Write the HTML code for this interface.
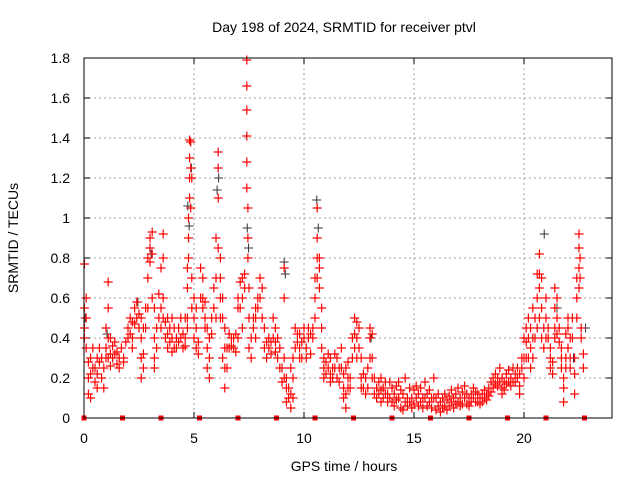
<!DOCTYPE html>
<html><head><meta charset="utf-8"><style>
body{margin:0;background:#fff}
svg{display:block;font-family:"Liberation Sans",sans-serif}
</style></head><body>
<svg id="chart" width="640" height="480" viewBox="0 0 640 480">
<rect width="640" height="480" fill="#fff"/>
<text x="344" y="32" font-size="14" text-anchor="middle">Day 198 of 2024, SRMTID for receiver ptvl</text>
<text x="344" y="471" font-size="14" text-anchor="middle">GPS time / hours</text>
<text transform="translate(18,238) rotate(-90)" font-size="14" text-anchor="middle">SRMTID / TECUs</text>
<g id="grid"></g>
<g id="ticks"></g>
<g id="black"></g>
<g id="red"></g>
<g id="marks"></g>
<rect x="84" y="58" width="528" height="360" fill="none" stroke="#000" stroke-width="1"/>
</svg>
<script>
const xTicks=[0,5,10,15,20];
const yTicks=[0,0.2,0.4,0.6,0.8,1,1.2,1.4,1.6,1.8];
const yTickLabels=["0","0.2","0.4","0.6","0.8","1","1.2","1.4","1.6","1.8"];
const markerHours=[0,1.75,3.5,5.25,7,8.75,10.5,12.25,14,15.75,17.5,19.25,21,22.75];
const redHours=[0.02,0.1,0.2,0.3,0.4,0.5,0.6,0.7,0.8,0.9,1.0,1.1,1.2,1.3,1.4,1.5,1.6,1.7,1.8,1.9,2.0,2.1,2.2,2.3,2.4,2.5,2.6,2.7,2.8,2.9,3.0,3.1,3.2,3.3,3.4,3.5,3.6,3.7,3.8,3.9,4.0,4.1,4.2,4.3,4.4,4.5,4.6,4.7,4.75,4.8,4.85,4.9,5.0,5.1,5.2,5.3,5.4,5.5,5.6,5.7,5.8,5.9,6.0,6.1,6.2,6.3,6.4,6.5,6.6,6.7,6.8,6.9,7.0,7.1,7.2,7.3,7.4,7.45,7.5,7.6,7.7,7.8,7.9,8.0,8.1,8.2,8.3,8.4,8.5,8.6,8.7,8.8,8.9,9.0,9.1,9.2,9.3,9.4,9.5,9.6,9.7,9.8,9.9,10.0,10.1,10.2,10.3,10.4,10.5,10.6,10.7,10.8,10.9,11.0,11.1,11.2,11.3,11.4,11.5,11.6,11.7,11.8,11.9,12.0,12.1,12.2,12.3,12.4,12.5,12.6,12.7,12.8,12.9,13.0,13.1,13.2,13.3,13.4,13.5,13.6,13.7,13.8,13.9,14.0,14.1,14.2,14.3,14.4,14.5,14.6,14.7,14.8,14.9,15.0,15.1,15.2,15.3,15.4,15.5,15.6,15.7,15.8,15.9,16.0,16.1,16.2,16.3,16.4,16.5,16.6,16.7,16.8,16.9,17.0,17.1,17.2,17.3,17.4,17.5,17.6,17.7,17.8,17.9,18.0,18.1,18.2,18.3,18.4,18.5,18.6,18.7,18.8,18.9,19.0,19.1,19.2,19.3,19.4,19.5,19.6,19.7,19.8,19.9,20.0,20.1,20.2,20.3,20.4,20.5,20.6,20.7,20.8,20.9,21.0,21.1,21.2,21.3,21.4,21.5,21.6,21.7,21.8,21.9,22.0,22.1,22.2,22.3,22.4,22.5,22.55,22.6,22.7];
const redValues=[[0.77,0.55,0.45,0.4],[0.6,0.5,0.35],[0.28,0.2,0.12],[0.3,0.22,0.1],[0.35,0.25],[0.25,0.18],[0.3,0.22,0.15],[0.35,0.28],[0.3,0.2],[0.25,0.15],[0.45,0.35,0.3],[0.68,0.55,0.4,0.3],[0.4,0.32,0.26],[0.36,0.3],[0.38,0.32],[0.33,0.27],[0.3,0.25],[0.35],[0.3,0.28],[0.38],[0.45,0.4],[0.5,0.42],[0.48,0.4,0.35],[0.55,0.47],[0.58,0.5],[0.52,0.45],[0.5,0.4,0.3,0.2],[0.45,0.32,0.25],[0.55,0.45],[0.8,0.7,0.55],[0.9,0.85,0.78],[0.93,0.82,0.6],[0.55,0.4,0.3,0.25],[0.45,0.35],[0.62,0.5],[0.75,0.55,0.45],[0.92,0.8,0.6,0.5],[0.48,0.4],[0.5,0.42,0.35],[0.45,0.38],[0.5,0.4,0.33],[0.45,0.35],[0.4,0.35],[0.45,0.38],[0.5,0.4],[0.42,0.35],[0.5,0.4,0.36],[0.75,0.65,0.5,0.45],[1.0,0.9,0.8],[1.39,1.3,1.2,1.1],[1.38,1.25,1.05],[1.2,0.7,0.55],[0.6,0.5,0.4],[0.55,0.45,0.35],[0.38,0.32],[0.75,0.6],[0.7,0.6,0.55],[0.58,0.5,0.45],[0.45,0.35,0.25],[0.4,0.3,0.2],[0.5,0.42],[0.65,0.55],[0.9,0.7,0.5],[1.33,1.25,1.1,0.85],[0.8,0.7,0.6,0.5],[0.6,0.5,0.3],[0.45,0.35,0.25,0.15],[0.35,0.25],[0.42,0.35],[0.4,0.36],[0.4,0.35],[0.42,0.33],[0.6,0.55,0.4],[0.68,0.55],[0.7,0.6,0.45],[0.72,0.65],[1.79,1.66,1.54,1.41,1.28,1.15],[1.05,0.9,0.8],[0.65,0.5,0.35],[0.3,0.4],[0.5,0.45],[0.55,0.5,0.4],[0.6,0.55],[0.7,0.6],[0.65,0.5],[0.45,0.35],[0.38,0.3],[0.4,0.35],[0.38,0.32],[0.5,0.4],[0.45,0.38,0.33],[0.4,0.3],[0.35,0.25],[0.25,0.18],[0.75,0.6,0.3,0.2],[0.2,0.15,0.08],[0.15,0.1],[0.25,0.12,0.05],[0.3,0.2,0.1],[0.45,0.35],[0.42,0.38],[0.42,0.35,0.3],[0.38,0.3],[0.45,0.4],[0.35,0.3],[0.45,0.4],[0.42,0.32],[0.45,0.4],[0.7,0.6,0.5],[1.05,0.9,0.8,0.7],[0.8,0.75,0.65],[0.55,0.45,0.35],[0.3,0.25,0.2],[0.28,0.22],[0.32,0.25],[0.3,0.22,0.18],[0.25,0.2],[0.32,0.25],[0.3,0.2],[0.25,0.18],[0.35,0.25],[0.22,0.15,0.1],[0.25,0.12,0.05],[0.28,0.2,0.15],[0.2,0.15],[0.4,0.3],[0.5,0.42,0.35],[0.48,0.4,0.3],[0.45,0.35],[0.3,0.2,0.15],[0.22,0.15],[0.2,0.12],[0.25,0.15],[0.45,0.4,0.3],[0.42,0.3,0.2],[0.2,0.12],[0.15,0.1],[0.18,0.12],[0.2,0.14,0.08],[0.15,0.1],[0.18,0.12],[0.12,0.08],[0.18,0.1],[0.15,0.08],[0.12,0.06],[0.16,0.09],[0.18,0.1],[0.14,0.05],[0.12,0.04],[0.2,0.08],[0.1,0.06],[0.15,0.08],[0.1,0.05],[0.14,0.07],[0.16,0.1],[0.12,0.06],[0.15,0.08],[0.1,0.05],[0.18,0.1],[0.12,0.06],[0.14,0.08],[0.1,0.05],[0.2,0.1],[0.1,0.04],[0.12,0.06],[0.08,0.03],[0.1,0.05],[0.12,0.06],[0.09,0.04],[0.11,0.06],[0.14,0.08],[0.1,0.05],[0.12,0.07],[0.15,0.08],[0.1,0.06],[0.13,0.07],[0.16,0.1],[0.12,0.07],[0.1,0.06],[0.12,0.08],[0.15,0.1],[0.13,0.08],[0.12,0.08],[0.1,0.07],[0.12,0.08],[0.14,0.1],[0.12,0.09],[0.15,0.11],[0.18,0.13],[0.2,0.15],[0.22,0.17],[0.2,0.16],[0.25,0.18],[0.2,0.15,0.12],[0.18,0.14],[0.22,0.17],[0.24,0.18],[0.2,0.16],[0.25,0.18],[0.22,0.18],[0.25,0.2],[0.22,0.16,0.12],[0.3,0.25],[0.4,0.3,0.2],[0.45,0.38,0.3],[0.5,0.4,0.3],[0.45,0.35,0.25],[0.55,0.4,0.3],[0.5,0.4],[0.72,0.6,0.45],[0.82,0.72,0.65,0.5],[0.7,0.55,0.4],[0.45,0.35],[0.6,0.5,0.4],[0.45,0.4],[0.35,0.3,0.25],[0.28,0.22],[0.65,0.55,0.45,0.4],[0.6,0.5,0.42],[0.45,0.38],[0.35,0.3,0.25],[0.2,0.15,0.08],[0.42,0.3,0.25],[0.5,0.45,0.35],[0.4,0.3,0.25],[0.5,0.4],[0.3,0.22,0.12],[0.7,0.6,0.5],[0.92,0.85,0.75,0.65],[0.8,0.7],[0.45,0.4],[0.32,0.25]];
const blackHours=[0.05,1.05,2.45,3.05,4.72,4.78,4.88,6.05,6.12,7.42,7.48,9.1,9.15,10.58,10.65,13.05,20.92,21.5,22.25,22.8];
const blackValues=[0.5,0.42,0.58,0.82,1.06,0.96,1.25,1.14,1.2,0.95,0.85,0.78,0.72,1.09,0.95,0.4,0.92,0.55,0.3,0.45];

const X0=84,X1=612,Y0=418,Y1=58,XMAX=24,YMAX=1.8;
function xs(h){return X0+(X1-X0)*h/XMAX;}
function ys(v){return Y0-(Y0-Y1)*v/YMAX;}
const NS="http://www.w3.org/2000/svg";
function mk(tag,attrs,parent){const e=document.createElementNS(NS,tag);for(const k in attrs)e.setAttribute(k,attrs[k]);parent.appendChild(e);return e;}
const grid=document.getElementById('grid'),ticks=document.getElementById('ticks');
yTicks.forEach((v,i)=>{
  const y=ys(v);
  if(v>0&&v<YMAX){const g=mk('line',{x1:X0,x2:X1,y1:y,y2:y,stroke:'#a0a0a0','stroke-dasharray':'2,3'},grid);
  
  }
  const t=mk('line',{x1:X0,x2:X0+6,y1:y,y2:y,stroke:'#000'},ticks);
  
  
  const t2=mk('line',{x1:X1-6,x2:X1,y1:y,y2:y,stroke:'#000'},ticks);
  
  
  const l=mk('text',{x:X0-14,y:y+5,'font-size':14,'text-anchor':'end'},ticks);
  l.textContent=yTickLabels[i];
  
  
});
xTicks.forEach(h=>{
  const x=xs(h);
  if(h>0){const g=mk('line',{x1:x,x2:x,y1:Y1,y2:Y0,stroke:'#a0a0a0','stroke-dasharray':'2,3'},grid);
  
  }
  const t=mk('line',{x1:x,x2:x,y1:Y0,y2:Y0-6,stroke:'#000'},ticks);
  
  
  const t2=mk('line',{x1:x,x2:x,y1:Y1,y2:Y1+6,stroke:'#000'},ticks);
  
  
  const l=mk('text',{x:x,y:Y0+25,'font-size':14,'text-anchor':'middle'},ticks);
  l.textContent=String(h);
  
  
});
function plus(x,y){return `M${x-4.5},${y}h9M${x},${y-4.5}v9`;}
let bd='';
blackHours.forEach((h,i)=>{bd+=plus(xs(h),ys(blackValues[i]));});
const bp=mk('path',{d:bd,stroke:'#333',fill:'none','stroke-width':1},document.getElementById('black'));


let rd='';
redHours.forEach((h,i)=>{redValues[i].forEach(v=>{rd+=plus(xs(h),ys(v));});});
const rp=mk('path',{d:rd,stroke:'#f00',fill:'none','stroke-width':1.2},document.getElementById('red'));


markerHours.forEach(h=>{
  const r=mk('rect',{x:xs(h)-2.5,y:Y0-2.5,width:5,height:5,fill:'#f00'},document.getElementById('marks'));
  
  
});
</script>
</body></html>
